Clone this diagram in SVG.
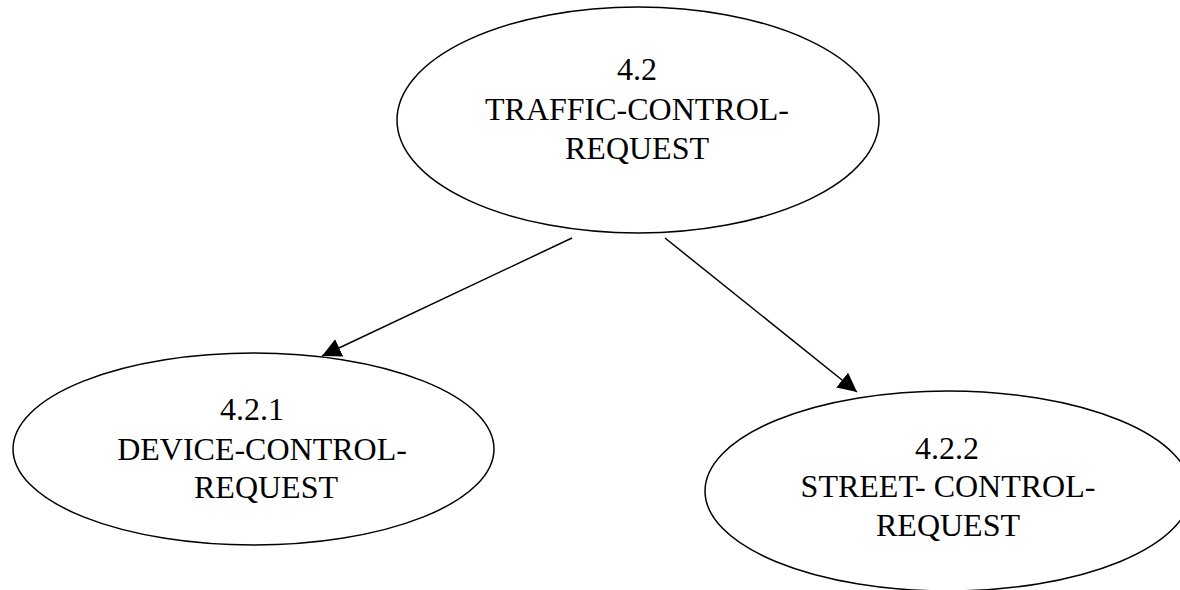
<svg xmlns="http://www.w3.org/2000/svg" width="1180" height="590" viewBox="0 0 1180 590">
  <style>
    .node ellipse { fill: #ffffff; stroke: #000000; stroke-width: 1.5; }
    .node text { font-family: "Liberation Serif", "Times New Roman", serif; font-size: 32px; fill: #000000; text-anchor: middle; }
    .edge { stroke: #000000; stroke-width: 1.5; fill: none; marker-end: url(#arrow); }
  </style>
  <defs>
    <marker id="arrow" markerUnits="userSpaceOnUse" markerWidth="20" markerHeight="20" refX="19" refY="9.5" orient="auto">
      <path d="M0,0 L19,9.5 L0,19 Z" fill="#000000"/>
    </marker>
  </defs>
  <rect width="1180" height="590" fill="#ffffff"/>

  <!-- connectors -->
  <g id="connectors">
    <line class="edge" x1="572" y1="238" x2="322" y2="356"/>
    <line class="edge" x1="665" y1="238" x2="857" y2="392"/>
  </g>

  <!-- parent process -->
  <g id="node-4-2" class="node">
    <ellipse cx="638" cy="120" rx="241" ry="113"/>
    <text x="637" y="80">4.2</text>
    <text x="637" y="120">TRAFFIC-CONTROL-</text>
    <text x="637" y="159">REQUEST</text>
  </g>

  <!-- child process 4.2.1 -->
  <g id="node-4-2-1" class="node">
    <ellipse cx="253.5" cy="449" rx="240.5" ry="96"/>
    <text x="252" y="420">4.2.1</text>
    <text x="262" y="460">DEVICE-CONTROL-</text>
    <text x="266" y="498">REQUEST</text>
  </g>

  <!-- child process 4.2.2 -->
  <g id="node-4-2-2" class="node">
    <ellipse cx="948" cy="491" rx="243" ry="100"/>
    <text x="947" y="459">4.2.2</text>
    <text x="948" y="497">STREET- CONTROL-</text>
    <text x="948" y="536">REQUEST</text>
  </g>
</svg>
